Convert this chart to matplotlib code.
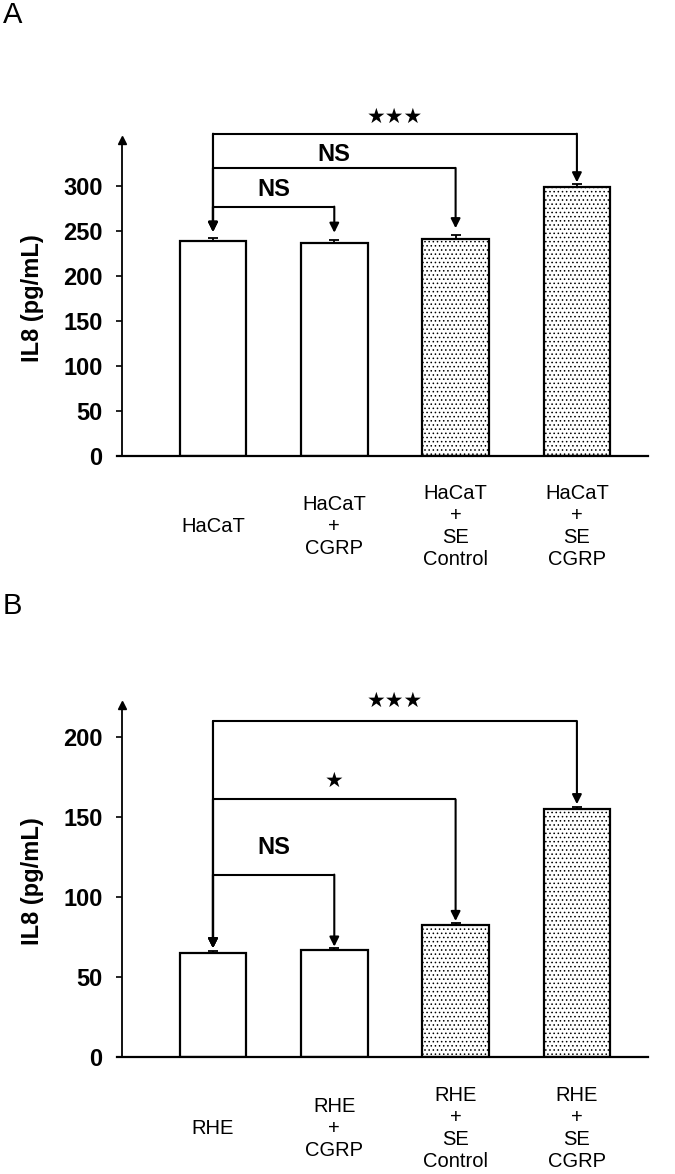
import matplotlib
matplotlib.use("Agg")
import matplotlib.pyplot as plt

plt.rcParams['font.family'] = ['Liberation Sans', 'DejaVu Sans']
plt.rcParams['hatch.linewidth'] = 0.6
plt.rcParams['hatch.color'] = '#555555'

cats_a = ["HaCaT", "HaCaT\n+\nCGRP", "HaCaT\n+\nSE\nControl", "HaCaT\n+\nSE\nCGRP"]
vals_a = [239, 237, 241, 299]
errs_a = [3, 3, 5, 3]
yticks_a = [0, 50, 100, 150, 200, 250, 300]

cats_b = ["RHE", "RHE\n+\nCGRP", "RHE\n+\nSE\nControl", "RHE\n+\nSE\nCGRP"]
vals_b = [65, 67, 82.5, 155]
errs_b = [1.2, 1.2, 1.2, 1.2]
yticks_b = [0, 50, 100, 150, 200]

hatched = [False, False, True, True]

# brackets: (from_idx, to_idx, line_y, tip_from, tip_to, label, label_y)
brk_a = [(0, 1, 277, 249, 248, "NS", 296),
         (0, 2, 320, 249, 253, "NS", 335),
         (0, 3, 358, 249, 304, "★★★", 376)]
brk_b = [(0, 1, 114, 68, 69, "NS", 131),
         (0, 2, 161, 68, 85, "★", 172),
         (0, 3, 210, 68, 158, "★★★", 222)]

fig = plt.figure(figsize=(6.75, 11.74), dpi=100)
W, H = 675, 1174

def make_panel(rect, cats, vals, errs, yticks, ytop, brks, label_y, letter, letter_y):
    ax = fig.add_axes(rect)
    x = list(range(len(cats)))
    for xi, v, h in zip(x, vals, hatched):
        ax.bar(xi, v, width=0.55, facecolor='white', edgecolor='black',
               linewidth=1.6, hatch='....' if h else None, zorder=2)
    ax.errorbar(x, vals, yerr=[[0]*len(errs), errs], fmt='none', ecolor='black',
                elinewidth=1.3, capsize=3.5, capthick=1.3, zorder=3)
    ax.set_xlim(-0.75, 3.586)
    ax.set_ylim(0, ytop)
    ax.set_yticks(yticks)
    ax.set_yticklabels([str(t) for t in yticks], fontsize=17, fontweight='bold')
    ax.set_xticks([])
    ax.tick_params(axis='y', direction='out', length=4, width=1.2, pad=10)
    for s in ['top', 'right']:
        ax.spines[s].set_visible(False)
    ax.spines['left'].set_linewidth(1.3)
    ax.spines['bottom'].set_linewidth(1.6)
    ax.spines['bottom'].set_bounds(-0.79, 3.586)
    ax.plot([0], [1], marker='^', markersize=6, color='black',
            transform=ax.transAxes, clip_on=False)
    bb = ax.get_position()
    fig.text(32 / W, (bb.y0 + bb.y1) / 2, "IL8 (pg/mL)", fontsize=17,
             fontweight='bold', rotation=90, ha='center', va='center')
    for xi, c in zip(x, cats):
        ax.text(xi, label_y, c, ha='center', va='center', fontsize=14.5,
                linespacing=1.2, transform=ax.get_xaxis_transform())
    for (i0, i1, ly, t0, t1, lab, lay) in brks:
        ax.plot([i0, i0, i1], [t0 + 2, ly, ly], color='black', lw=1.5,
                clip_on=False, solid_capstyle='butt')
        for xi, tip in ((i0, t0), (i1, t1)):
            ax.annotate("", xy=(xi, tip), xytext=(xi, ly), annotation_clip=False,
                        arrowprops=dict(arrowstyle='-|>', color='black', lw=1.5,
                                        mutation_scale=14, shrinkA=0, shrinkB=0))
        bold = lab == "NS"
        ax.text((i0 + i1) / 2, lay, lab, ha='center', va='center',
                fontsize=17 if bold else 15, fontweight='bold' if bold else 'normal',
                clip_on=False)
    fig.text(3 / W, 1 - letter_y / H, letter, fontsize=21, ha='left', va='center')
    return ax

make_panel([122 / W, 1 - 456 / H, (648 - 122) / W, 316 / H], cats_a, vals_a, errs_a,
           yticks_a, 351, brk_a, -0.222, "A", 15)
make_panel([122 / W, 1 - 1057 / H, (648 - 122) / W, 352 / H], cats_b, vals_b, errs_b,
           yticks_b, 220, brk_b, -0.202, "B", 606)

fig.savefig("out.png", dpi=100)
